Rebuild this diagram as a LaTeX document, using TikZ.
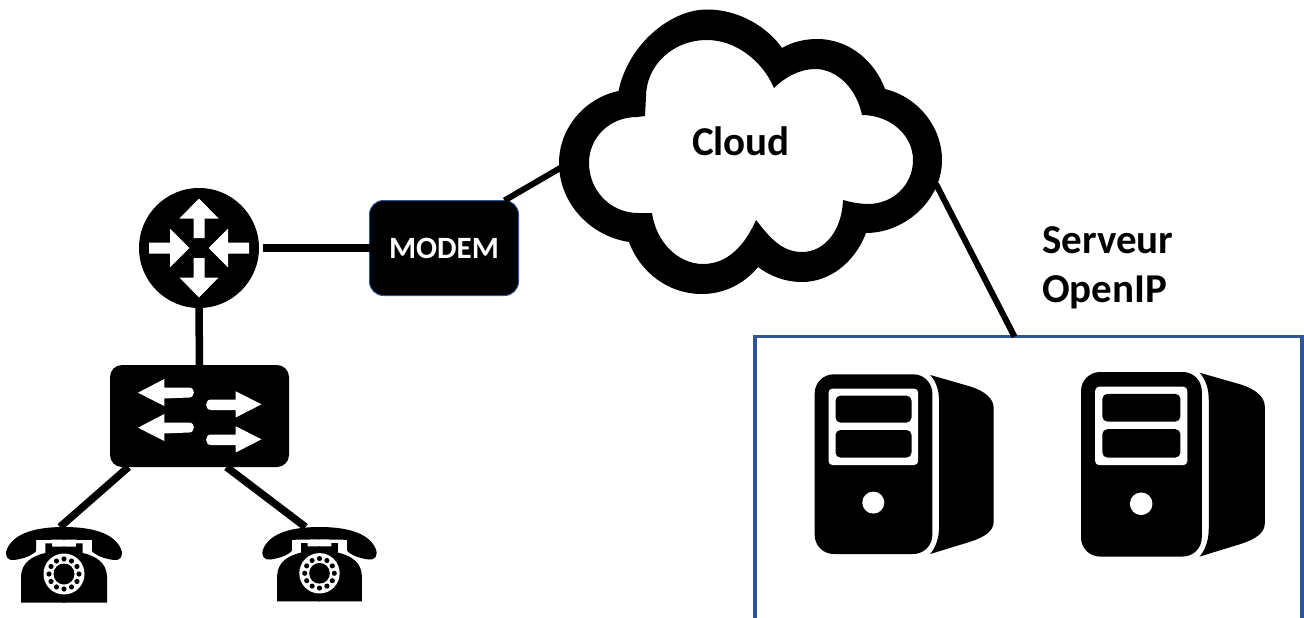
\documentclass[tikz,border=0pt]{standalone}
\usepackage{fontspec}
\setmainfont{Carlito}
\definecolor{boxblue}{HTML}{2F5597}
\tikzset{
  link/.style={line width=7.5pt},
  iconspot/.style={inner sep=0pt, outer sep=0pt},
  bigtext/.style={font=\bfseries\fontsize{41}{49}\selectfont, inner sep=0pt},
  phone/.pic={
    \foreach \s in {1,-1}{
      \fill[xscale=\s] (-1,0) -- (0,0) .. controls (28,0) and (50,6) .. (57,22) .. controls (60,29) and (56,34) .. (50,33)
        .. controls (42,32) and (32,29) .. (28,24) -- (28,13) -- (-1,12.5) -- cycle;
      \fill[xscale=\s] (-1,19.7) -- (12,19.7) -- (12,16.3) -- (18.7,16.3) -- (18.7,26)
        .. controls (32,29) and (43,36) .. (43,50) -- (43,75.5) -- (-1,75.5) -- cycle;
    }
    \fill[white] (0,47) circle [radius=20.5];
    \foreach \a in {0,30,...,330}
      \fill[shift={(0,47)}] (\a:15) circle [radius=2.6];
    \fill (0,47) circle [radius=10.5];
  },
  server/.pic={
    \fill[rounded corners=19pt] (0,0) rectangle (117.6,179.7);
    \fill (115.5,0.7) -- (156,12.3) .. controls (170,17) and (179,24) .. (179,34) -- (179,147)
      .. controls (179,157) and (170,162.5) .. (156,167.3) -- (115.5,179.7)
      .. controls (122,172) and (124.4,162) .. (124.4,152) -- (124.4,27.3)
      .. controls (124.4,17) and (122,8) .. (115.5,0.7) -- cycle;
    \fill[white, rounded corners=4pt] (13.8,14.3) rectangle (103.5,90.7);
    \fill[rounded corners=5pt] (20.8,21.3) rectangle (96.8,48.3);
    \fill[rounded corners=5pt] (20.8,55.7) rectangle (96.8,83.3);
    \fill[white] (58.6,128.3) circle [radius=11];
  }
}
\begin{document}
\begin{tikzpicture}[x=1pt, y=-1pt]
  \useasboundingbox (0,0) rectangle (1304,618);

  \node[iconspot, circle, fill=black, minimum size=120pt] (router) at (199,248) {};
  \node[iconspot, rectangle, rounded corners=12pt, fill=black, minimum width=179pt, minimum height=102pt] (switch) at (199.5,416) {};
  \node[iconspot, rectangle, rounded corners=14pt, fill=black, draw=boxblue, line width=1pt, minimum width=149pt, minimum height=95pt,
    text=white, font=\bfseries\fontsize{31}{36}\selectfont] (modem) at (444,248) {MODEM};
  \node[iconspot, minimum width=115pt, minimum height=76pt] (phoneL) at (64,565) {};
  \node[iconspot, minimum width=113pt, minimum height=76pt] (phoneR) at (319.5,565) {};
  \node[iconspot, draw=boxblue, line width=3.5pt, minimum width=547pt, minimum height=300pt] (openip) at (1028.5,486.7) {};

  \coordinate (cloudwest) at (562,167);
  \coordinate (cloudeast) at (936,184);

  \draw[link, shorten <=4pt] (router.east) -- (modem.west);
  \draw[link] (router.south) -- (switch.north);
  \draw[link] ([xshift=-71pt]switch.south) -- ([xshift=-4pt]phoneL.north);
  \draw[link] ([xshift=27pt]switch.south) -- ([xshift=-14pt]phoneR.north);
  \draw[line width=6pt] ([xshift=-14pt]modem.north east) -- (cloudwest);
  \draw[line width=6pt] (cloudeast) -- ([xshift=-14pt]openip.north);

  % router arrows
  \foreach \s in {1,-1}{
    \fill[white, shift={(router.center)}, yscale=\s] (0,-49.5) -- (19.5,-29.5) -- (5.5,-29.5) -- (5.5,-10) -- (-5.5,-10) -- (-5.5,-29.5) -- (-19.5,-29.5) -- cycle;
    \fill[white, shift={(router.center)}, xscale=\s] (-9.7,0) -- (-29,-19.5) -- (-29,-5.5) -- (-50,-5.5) -- (-50,5.5) -- (-29,5.5) -- (-29,19.5) -- cycle;
  }

  % switch arrows
  \foreach \dy in {0,35}{
    \fill[white, yshift=-\dy pt] (138,392.7) -- (164.3,379) -- (164.3,387.5) -- (189,387.5) .. controls (195.5,387.5) and (195.5,397.5) .. (189,397.5) -- (164.3,398.5) -- (164.3,406) -- cycle;
    \fill[white, yshift=-\dy pt] (261.5,404.3) -- (235.7,391.3) -- (235.7,399.5) -- (211,399.5) .. controls (204.5,399.5) and (204.5,410) .. (211,410) -- (235.7,410) -- (235.7,417.5) -- cycle;
  }

  \pic at (phoneL.north) {phone};
  \pic[scale=0.985] at (phoneR.north) {phone};

  % cloud
  \fill[even odd rule]
    (618.5,91) .. controls (628,45) and (670,9.5) .. (707,9.5) .. controls (740,9.5) and (768,28) .. (782,48)
    .. controls (792,42) and (805,39) .. (817,39) .. controls (850,39) and (875,62) .. (885,89)
    .. controls (918,97) and (942,127) .. (942,160) .. controls (942,200) and (905,233) .. (866,233)
    .. controls (855,262) and (830,282) .. (802,282) .. controls (785,282) and (770,276) .. (758,267)
    .. controls (745,283) and (725,294) .. (702,294) .. controls (668,294) and (640,272) .. (629,242)
    .. controls (590,236) and (559,203) .. (559,163) .. controls (559,128) and (585,98) .. (618.5,91) -- cycle
    (645,116) -- (646,97) .. controls (646,65) and (673,40) .. (707,40) .. controls (735,40) and (762,60) .. (774,88)
    .. controls (785,77) and (800,69) .. (815,69) .. controls (838,69) and (857,90) .. (862,115)
    .. controls (890,115) and (913,135) .. (913,160) .. controls (913,185) and (893,204) .. (868,204)
    .. controls (860,204) and (850,202) .. (843,200)
    .. controls (842,230) and (825,252) .. (802,252) .. controls (782,252) and (770,238) .. (756,220)
    .. controls (745,245) and (728,264) .. (703,264) .. controls (678,264) and (656,242) .. (652,213)
    -- (638,213) .. controls (610,213) and (589,190) .. (589,163) .. controls (589,137) and (610,117) .. (637,117) -- cycle;
  \node[bigtext] (cloud) at (741,141) {Cloud};

  \node[bigtext, anchor=west, align=left] (title) at (1042,268) {Serveur\\OpenIP};

  \pic at (814.7,374.3) {server};
  \pic[scale=1.027] at (1081,372) {server};
\end{tikzpicture}
\end{document}
